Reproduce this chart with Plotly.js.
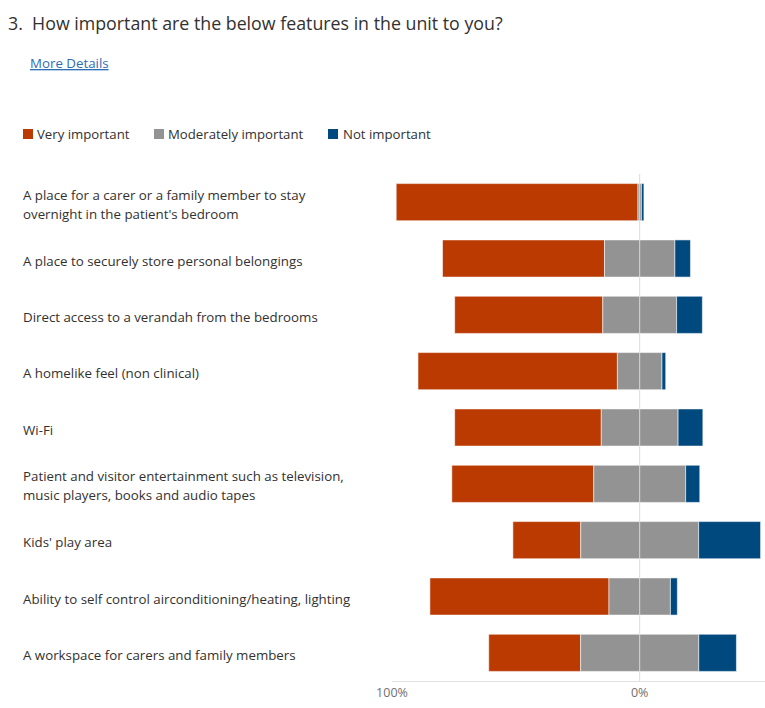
<!DOCTYPE html>
<html><head><meta charset="utf-8">
<script src="https://cdn.plot.ly/plotly-3.0.1.min.js"></script>
<style>html,body{margin:0;padding:0;background:#fff}#chart{width:765px;height:708px}</style>
</head><body><div id="chart"></div>
<script>
const categories = [
  "A place for a carer or a family member to stay<br>overnight in the patient's bedroom",
  "A place to securely store personal belongings",
  "Direct access to a verandah from the bedrooms",
  "A homelike feel (non clinical)",
  "Wi-Fi",
  "Patient and visitor entertainment such as television,<br>music players, books and audio tapes",
  "Kids' play area",
  "Ability to self control airconditioning/heating, lighting",
  "A workspace for carers and family members"
];
const veryImportant       = [97.6, 65.4, 59.8, 80.5, 59.2, 57.3, 27.4, 72.3, 37.1];
const moderatelyImportant = [1.4, 28.4, 29.8, 18.0, 31.0, 37.1, 47.6, 24.8, 47.7];
const notImportant        = [1.0, 6.3, 10.4, 1.5, 10.0, 5.7, 25.0, 2.8, 15.2];
const seriesNames = ["Very important", "Moderately important", "Not important"];
const seriesColors = ["#BA3A02", "#939393", "#00497F"];
const xTickVals = [-100, 0];
const xTickText = ["100%", "0%"];
const titleText = "3.\u00A0 How important are the below features in the unit to you?";
const linkText = "More Details";

const FONT = "Open Sans, Noto Sans, sans-serif";
const TXT = "#323130";
const L = 392, R = 0, T = 174, B = 27, WID = 765, HEI = 708;
const PW = WID - L - R, PH = HEI - T - B;
const pxPerPct = 2.477;
const px = x => (x - L) / PW;
const py = y => (HEI - B - y) / PH;

const negVery = veryImportant.map((v, i) => -(moderatelyImportant[i] / 2 + v));
const negMod = moderatelyImportant.map(m => -m / 2);
const posNot = moderatelyImportant.map(m => m / 2);

const lineStyle = {color: "rgba(255,255,255,0.55)", width: 1};
const traces = [
  {type: "bar", orientation: "h", name: seriesNames[0], y: categories, x: veryImportant, base: negVery,
   marker: {color: seriesColors[0], line: lineStyle}, hoverinfo: "skip"},
  {type: "bar", orientation: "h", name: seriesNames[1], y: categories, x: moderatelyImportant, base: negMod,
   marker: {color: seriesColors[1], line: lineStyle}, hoverinfo: "skip"},
  {type: "bar", orientation: "h", name: seriesNames[2], y: categories, x: notImportant, base: posNot,
   marker: {color: seriesColors[2], line: lineStyle}, hoverinfo: "skip"}
];

const annotations = [];
// title
annotations.push({xref: "paper", yref: "paper", x: px(6), y: py(23), xanchor: "left", yanchor: "middle",
  text: titleText, showarrow: false, font: {family: FONT, size: 17.8, color: TXT}});
annotations.push({xref: "paper", yref: "paper", x: px(28), y: py(63), xanchor: "left", yanchor: "middle",
  text: linkText, showarrow: false, font: {family: FONT, size: 13.3, color: "#2F6DB5", lineposition: "under"}});
// legend
const legSq = [23, 154, 328];
const legTx = [35, 166, 341];
const shapes = [];
seriesNames.forEach((n, i) => {
  annotations.push({xref: "paper", yref: "paper", x: px(legTx[i]), y: py(134), xanchor: "left", yanchor: "middle",
    text: n, showarrow: false, font: {family: FONT, size: 13.2, color: TXT}});
  shapes.push({type: "rect", xref: "paper", yref: "paper", x0: px(legSq[i]), x1: px(legSq[i] + 10),
    y0: py(129), y1: py(139), fillcolor: seriesColors[i], line: {width: 0}});
});
// category labels
categories.forEach(c => {
  const lines = c.split("<br>");
  lines.forEach((ln, j) => {
    annotations.push({xref: "paper", yref: "y", x: px(21), y: c, xanchor: "left", yanchor: "middle",
      yshift: ((lines.length - 1) / 2 - j) * 19 - 2, text: ln, showarrow: false, align: "left",
      font: {family: FONT, size: 13.3, color: TXT}});
  });
});
// zero reference line above bars
shapes.push({type: "line", xref: "x", yref: "paper", x0: 0, x1: 0, y0: 0, y1: 1, layer: "above",
  line: {color: "rgba(225,225,225,0.9)", width: 1}});

const layout = {
  width: WID, height: HEI,
  margin: {l: L, r: R, t: T, b: B, pad: 0},
  paper_bgcolor: "#fff", plot_bgcolor: "#fff",
  barmode: "overlay", bargap: 0.34,
  showlegend: false,
  xaxis: {range: [-100, -100 + PW / pxPerPct], tickvals: xTickVals, ticktext: xTickText,
    showgrid: true, gridcolor: "#E1E1E1", zeroline: false, showline: true, linecolor: "#E1E1E1",
    ticks: "", tickfont: {family: FONT, size: 12.5, color: "#707070"}, fixedrange: true},
  yaxis: {type: "category", autorange: "reversed", showticklabels: false, showgrid: false,
    zeroline: false, showline: false, ticks: "", fixedrange: true},
  annotations: annotations, shapes: shapes,
  font: {family: FONT, color: TXT}
};
Plotly.newPlot("chart", traces, layout, {displayModeBar: false, staticPlot: true});
</script>
</body></html>
